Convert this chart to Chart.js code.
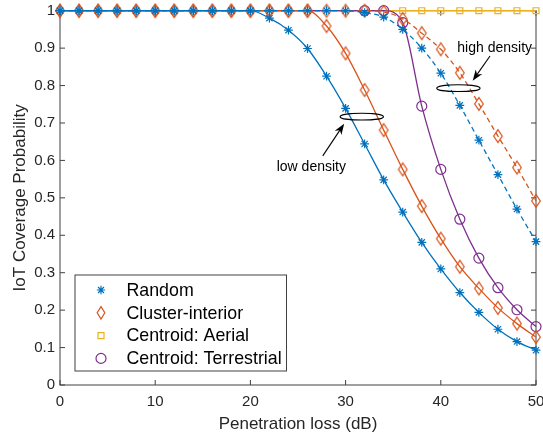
<!DOCTYPE html>
<html>
<head>
<meta charset="utf-8">
<script src="https://cdn.jsdelivr.net/npm/chart.js@4"></script>
<style>
  html, body { margin: 0; padding: 0; background: #fff; }
</style>
</head>
<body>
<canvas id="myChart" width="543" height="441"></canvas>
<script>
const lossDb = [0, 2, 4, 6, 8, 10, 12, 14, 16, 18, 20, 22, 24, 26, 28, 30, 32, 34, 36, 38, 40, 42, 44, 46, 48, 50];

// low density (solid)
const randomLow = [1, 1, 1, 1, 1, 1, 1, 1, 1, 1, 1, 0.98, 0.948, 0.899, 0.825, 0.739, 0.644, 0.548, 0.462, 0.381, 0.31, 0.247, 0.194, 0.149, 0.116, 0.093];
const clusterLow = [1, 1, 1, 1, 1, 1, 1, 1, 1, 1, 1, 1, 1, 1, 0.959, 0.886, 0.788, 0.681, 0.576, 0.478, 0.391, 0.316, 0.258, 0.206, 0.164, 0.128];
const terrestrial = [1, 1, 1, 1, 1, 1, 1, 1, 1, 1, 1, 1, 1, 1, 1, 1, 1, 1, 0.968, 0.745, 0.576, 0.443, 0.339, 0.26, 0.201, 0.156];
const aerial = [1, 1, 1, 1, 1, 1, 1, 1, 1, 1, 1, 1, 1, 1, 1, 1, 1, 1, 1, 1, 1, 1, 1, 1, 1, 1];

// high density (dashed)
const randomHigh = [1, 1, 1, 1, 1, 1, 1, 1, 1, 1, 1, 1, 1, 1, 1, 1, 0.995, 0.983, 0.95, 0.9, 0.833, 0.747, 0.654, 0.562, 0.47, 0.383];
const clusterHigh = [1, 1, 1, 1, 1, 1, 1, 1, 1, 1, 1, 1, 1, 1, 1, 1, 1, 0.997, 0.978, 0.94, 0.897, 0.834, 0.751, 0.665, 0.581, 0.492];

const seriesNames = ['Random', 'Cluster-interior', 'Centroid: Aerial', 'Centroid: Terrestrial'];
const xTicks = [0, 10, 20, 30, 40, 50];

const BLUE = '#0072BD', ORANGE = '#D95319', YELLOW = '#EDB120', PURPLE = '#7E2F8E';
const FONT = "'Liberation Sans', Arial, Helvetica, sans-serif";
const AXIS = '#404040';

// markers are only visible from these indices on (the rest sit under the others)
const terrestrialMarkFrom = 16;
const aerialMarkFrom = 18;

function pts(arr) {
  return lossDb.map((x, i) => ({ x: x, y: arr[i] }));
}

function diamond(color) {
  const c = document.createElement('canvas');
  c.width = 12; c.height = 16;
  const g = c.getContext('2d');
  g.strokeStyle = color; g.lineWidth = 1.2;
  g.beginPath();
  g.moveTo(6, 1.6); g.lineTo(10.3, 8); g.lineTo(6, 14.4); g.lineTo(1.7, 8);
  g.closePath(); g.stroke();
  return c;
}
const diamondImg = diamond(ORANGE);

function line(label, arr, color, style, radius, dashed) {
  return {
    label: label,
    data: pts(arr),
    borderColor: color,
    backgroundColor: 'rgba(0,0,0,0)',
    borderWidth: 1.3,
    borderDash: dashed ? [5, 3.5] : [],
    pointStyle: style,
    pointRadius: radius,
    pointBorderColor: color,
    pointBorderWidth: 1.2,
    pointBackgroundColor: 'rgba(0,0,0,0)',
    cubicInterpolationMode: 'monotone',
    clip: false
  };
}

const datasets = [
  line('Random', randomLow, BLUE, 'star', 4.4, false),
  line('Random high', randomHigh, BLUE, 'star', 4.4, true),
  line('Cluster-interior', clusterLow, ORANGE, diamondImg, 4.4, false),
  line('Cluster-interior high', clusterHigh, ORANGE, diamondImg, 4.4, true),
  line('Centroid: Terrestrial', terrestrial, PURPLE, 'circle', c => c.dataIndex >= terrestrialMarkFrom ? 5 : 0, false),
  line('Centroid: Aerial', aerial, YELLOW, 'rect', c => c.dataIndex >= aerialMarkFrom ? 4.2 : 0, false)
];

const notes = {
  ellipses: [ { x: 31.7, y: 0.717, w: 4.55, h: 0.018 }, { x: 41.85, y: 0.793, w: 4.55, h: 0.018 } ],
  arrows: [ { x1: 27.6, y1: 0.612, x2: 29.85, y2: 0.698 }, { x1: 45.17, y1: 0.879, x2: 43.35, y2: 0.813 } ],
  texts: [ { t: 'low density', x: 26.4, y: 0.581 }, { t: 'high density', x: 45.66, y: 0.899 } ]
};

function marker(ctx, kind, x, y, color) {
  ctx.save();
  ctx.strokeStyle = color; ctx.lineWidth = 1.2;
  ctx.beginPath();
  if (kind === 'star') {
    const r = 4.2;
    for (let k = 0; k < 4; k++) {
      const a = k * Math.PI / 4;
      ctx.moveTo(x - r * Math.cos(a), y - r * Math.sin(a));
      ctx.lineTo(x + r * Math.cos(a), y + r * Math.sin(a));
    }
  } else if (kind === 'diamond') {
    ctx.moveTo(x, y - 6.2); ctx.lineTo(x + 3.8, y); ctx.lineTo(x, y + 6.2); ctx.lineTo(x - 3.8, y); ctx.closePath();
  } else if (kind === 'square') {
    ctx.rect(x - 3, y - 3, 6, 6);
  } else {
    ctx.arc(x, y, 5, 0, Math.PI * 2);
  }
  ctx.stroke();
  ctx.restore();
}

function arrow(ctx, x1, y1, x2, y2) {
  const a = Math.atan2(y2 - y1, x2 - x1);
  const L = 11, W = 4;
  const bx = x2 - L * Math.cos(a), by = y2 - L * Math.sin(a);
  ctx.beginPath();
  ctx.moveTo(x1, y1);
  ctx.lineTo(x2 - 0.7 * L * Math.cos(a), y2 - 0.7 * L * Math.sin(a));
  ctx.stroke();
  ctx.beginPath();
  ctx.moveTo(x2, y2);
  ctx.lineTo(bx + W * Math.sin(a), by - W * Math.cos(a));
  ctx.lineTo(x2 - 0.7 * L * Math.cos(a), y2 - 0.7 * L * Math.sin(a));
  ctx.lineTo(bx - W * Math.sin(a), by + W * Math.cos(a));
  ctx.closePath();
  ctx.fill();
}

const frame = {
  id: 'frame',
  beforeDatasetsDraw(chart) {
    const { ctx, chartArea: a, scales: { x, y } } = chart;
    ctx.save();
    ctx.strokeStyle = AXIS;
    ctx.lineWidth = 1;
    ctx.strokeRect(a.left, a.top, a.right - a.left, a.bottom - a.top);
    ctx.beginPath();
    x.ticks.forEach(t => {
      const p = x.getPixelForValue(t.value);
      ctx.moveTo(p, a.bottom); ctx.lineTo(p, a.bottom - 5);
      ctx.moveTo(p, a.top); ctx.lineTo(p, a.top + 5);
    });
    y.ticks.forEach(t => {
      const p = y.getPixelForValue(t.value);
      ctx.moveTo(a.left, p); ctx.lineTo(a.left + 5, p);
      ctx.moveTo(a.right, p); ctx.lineTo(a.right - 5, p);
    });
    ctx.stroke();
    ctx.restore();
  },
  afterDraw(chart) {
    const { ctx, scales: { x, y } } = chart;
    ctx.save();
    ctx.strokeStyle = '#000'; ctx.fillStyle = '#000'; ctx.lineWidth = 1.1;
    notes.ellipses.forEach(e => {
      const cx = x.getPixelForValue(e.x), cy = y.getPixelForValue(e.y);
      const rx = x.getPixelForValue(e.x + e.w / 2) - cx;
      const ry = cy - y.getPixelForValue(e.y + e.h / 2);
      ctx.beginPath(); ctx.ellipse(cx, cy, rx, ry, 0, 0, Math.PI * 2); ctx.stroke();
    });
    notes.arrows.forEach(r => {
      arrow(ctx, x.getPixelForValue(r.x1), y.getPixelForValue(r.y1), x.getPixelForValue(r.x2), y.getPixelForValue(r.y2));
    });
    ctx.font = '14px ' + FONT;
    ctx.textAlign = 'center'; ctx.textBaseline = 'middle';
    notes.texts.forEach(n => ctx.fillText(n.t, x.getPixelForValue(n.x), y.getPixelForValue(n.y)));

    // legend box
    const bx = 75, by = 275, bw = 211.5, bh = 96;
    ctx.fillStyle = '#fff';
    ctx.fillRect(bx, by, bw, bh);
    ctx.strokeStyle = AXIS; ctx.lineWidth = 1;
    ctx.strokeRect(bx, by, bw, bh);
    const kinds = ['star', 'diamond', 'square', 'circle'];
    const colors = [BLUE, ORANGE, YELLOW, PURPLE];
    ctx.font = '17.8px ' + FONT;
    ctx.textAlign = 'left'; ctx.textBaseline = 'middle';
    seriesNames.forEach((name, i) => {
      const ry = 290 + i * 22.8;
      marker(ctx, kinds[i], 101, ry, colors[i]);
      ctx.fillStyle = '#000';
      ctx.fillText(name, 126.5, ry + 1);
    });
    ctx.restore();
  }
};

const config = {
  type: 'line',
  data: { datasets: datasets },
  options: {
    responsive: false,
    animation: false,
    layout: { padding: { left: 0, right: 7, top: 10.7, bottom: 0 } },
    plugins: { legend: { display: false }, tooltip: { enabled: false } },
    scales: {
      x: {
        type: 'linear', min: 0, max: 50,
        afterBuildTicks: s => { s.ticks = xTicks.map(v => ({ value: v })); },
        ticks: { padding: 8, color: '#262626', font: { family: FONT, size: 15 } },
        grid: { display: false, drawTicks: false },
        border: { display: false },
        title: { display: true, text: 'Penetration loss (dB)', color: '#262626', font: { family: FONT, size: 17 }, padding: { top: 0, bottom: 6 } },
        afterFit: s => { s.height = 56; s.paddingLeft = 0; s.paddingRight = 0; }
      },
      y: {
        min: 0, max: 1,
        ticks: { stepSize: 0.1, padding: 5, color: '#262626', font: { family: FONT, size: 15 },
                 callback: v => String(+v.toFixed(1)) },
        grid: { display: false, drawTicks: false },
        border: { display: false },
        title: { display: true, text: 'IoT Coverage Probability', color: '#262626', font: { family: FONT, size: 17 }, padding: { top: 10, bottom: 0 } },
        afterFit: s => { s.width = 60; s.paddingTop = 0; s.paddingBottom = 0; }
      }
    }
  },
  plugins: [frame]
};

const myChart = new Chart(document.getElementById('myChart'), config);
</script>
</body>
</html>
